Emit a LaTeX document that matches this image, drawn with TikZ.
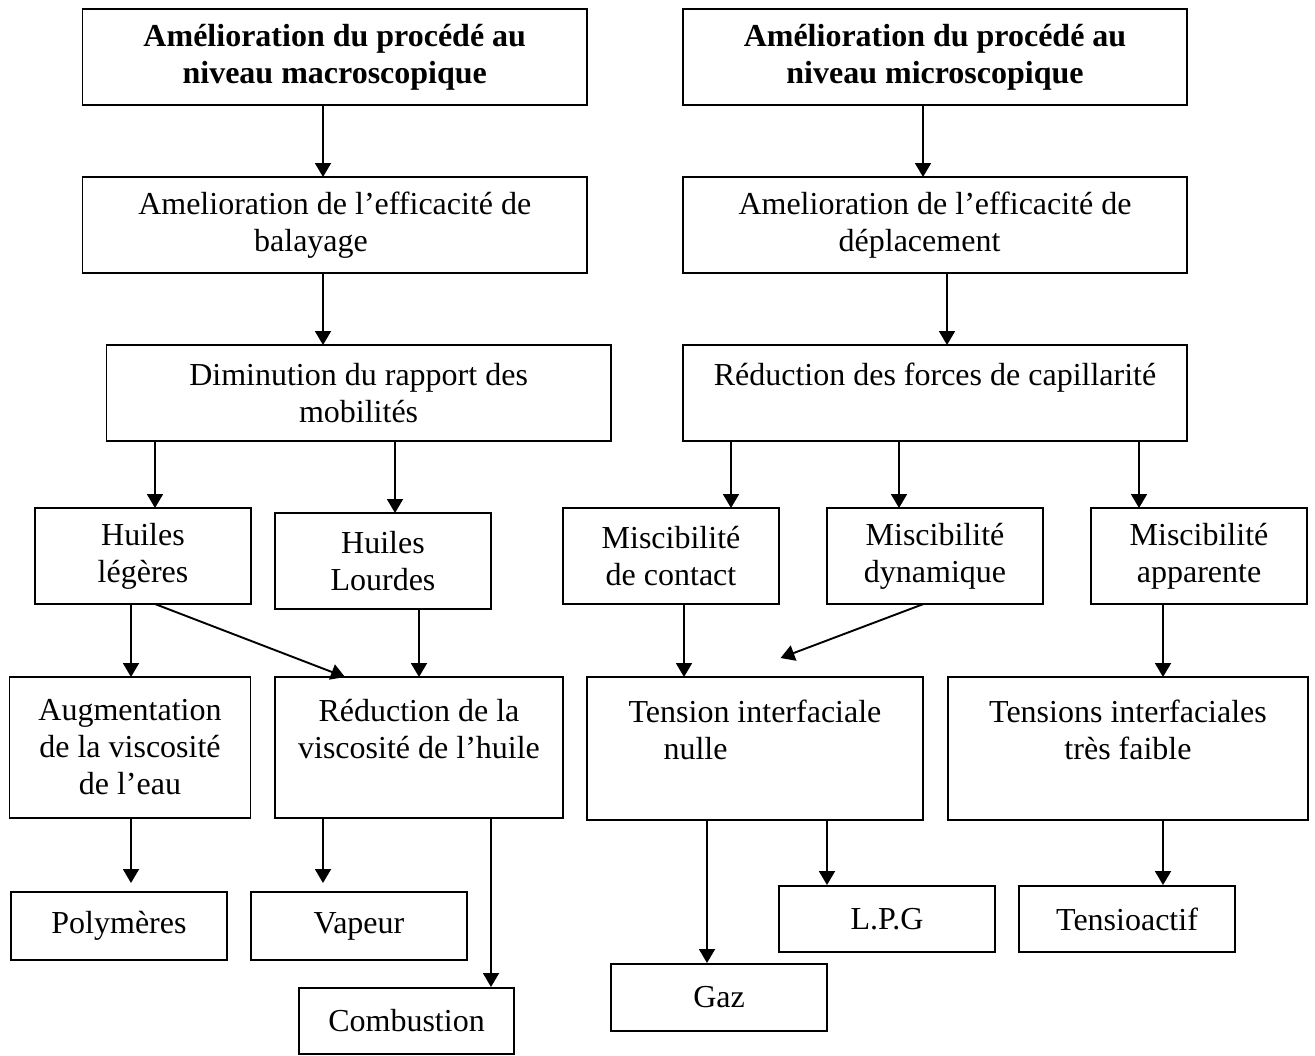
\documentclass[tikz,border=0pt]{standalone}
\usepackage{fontspec}
\setmainfont{Liberation Serif}
\usetikzlibrary{arrows.meta}
\begin{document}
\begin{tikzpicture}[x=1bp,y=-1bp,
  box/.style={draw, line width=1.9bp, inner sep=0pt, outer sep=0pt, align=center,
    font=\fontsize{32bp}{37bp}\selectfont},
  boldbox/.style={box, font=\fontsize{32bp}{37bp}\selectfont\bfseries},
  arr/.style={line width=1.9bp, -{Triangle[width=16bp,length=14bp]}}]
\useasboundingbox (0,0) rectangle (1315,1055);

% level 1
\node[boldbox, minimum width=504.5bp, minimum height=96bp] (macro) at (334.75,57)
  {Amélioration du procédé au\\niveau macroscopique};
\node[boldbox, minimum width=504bp, minimum height=96bp] (micro) at (935,57)
  {Amélioration du procédé au\\niveau microscopique};
% level 2
\node[box, minimum width=504.5bp, minimum height=96bp] (bal) at (334.75,225)
  {Amelioration de l’efficacité de\\balayage\hspace*{47.5bp}\mbox{}};
\node[box, minimum width=504bp, minimum height=96bp] (dep) at (935,225)
  {Amelioration de l’efficacité de\\déplacement\hspace*{31bp}\mbox{}};
% level 3
\node[box, minimum width=504.2bp, minimum height=96bp] (dim) at (358.6,393)
  {Diminution du rapport des\\mobilités};
\node[box, minimum width=504bp, minimum height=96bp] (red) at (935,393)
  {Réduction des forces de capillarité\\\mbox{}};
% level 4
\node[box, minimum width=216bp, minimum height=96bp] (hl) at (143,556)
  {Huiles\\légères};
\node[box, minimum width=216bp, minimum height=96bp] (hL) at (383,561)
  {Huiles\\Lourdes};
\node[box, minimum width=216bp, minimum height=96bp] (mc) at (671,556)
  {Miscibilité\\de contact};
\node[box, minimum width=216bp, minimum height=96bp] (md) at (935,556)
  {Miscibilité\\dynamique};
\node[box, minimum width=216bp, minimum height=96bp] (ma) at (1199,556)
  {Miscibilité\\apparente};
% level 5
\node[box, minimum width=241bp, minimum height=141bp] (aug) at (130,747.5)
  {Augmentation\\de la viscosité\\de l’eau};
\node[box, minimum width=288bp, minimum height=141bp] (rv) at (419,747.5)
  {Réduction de la\\viscosité de l’huile\\\mbox{}};
\node[box, minimum width=335.5bp, minimum height=143bp] (tn) at (755,748.5)
  {Tension interfaciale\\nulle\hspace*{119bp}\mbox{}\\\mbox{}};
\node[box, minimum width=360.4bp, minimum height=143bp] (ti) at (1128,748.5)
  {Tensions interfaciales\\très faible\\\mbox{}};
% level 6
\node[box, minimum width=216.5bp, minimum height=68bp] (poly) at (119,926) {Polymères};
\node[box, minimum width=216bp, minimum height=68bp] (vap) at (359,926) {Vapeur};
\node[box, minimum width=215bp, minimum height=66bp] (comb) at (406.5,1021) {Combustion};
\node[box, minimum width=216bp, minimum height=66bp] (lpg) at (887,919) {L.P.G};
\node[box, minimum width=216bp, minimum height=66bp] (tens) at (1127,919) {Tensioactif};
\node[box, minimum width=216bp, minimum height=67bp] (gaz) at (719,997.5) {Gaz};

\coordinate (mdend) at (780.5,658);

% connectors
\draw[arr] ([xshift=-11.75bp]macro.south) -- ([xshift=-11.75bp]macro.south |- bal.north);
\draw[arr] ([xshift=-12bp]micro.south) -- ([xshift=-12bp]micro.south |- dep.north);
\draw[arr] ([xshift=-11.75bp]bal.south) -- ([xshift=-11.75bp]bal.south |- dim.north);
\draw[arr] ([xshift=12bp]dep.south) -- ([xshift=12bp]dep.south |- red.north);

\draw[arr] ([xshift=-203.6bp]dim.south) -- ([xshift=-203.6bp]dim.south |- hl.north);
\draw[arr] ([xshift=36.4bp]dim.south) -- ([xshift=36.4bp]dim.south |- hL.north);

\draw[arr] ([xshift=-204bp]red.south) -- ([xshift=-204bp]red.south |- mc.north);
\draw[arr] ([xshift=-36bp]red.south) -- ([xshift=-36bp]red.south |- md.north);
\draw[arr] ([xshift=204bp]red.south) -- ([xshift=204bp]red.south |- ma.north);

\draw[arr] ([xshift=-12bp]hl.south) -- ([xshift=-12bp]hl.south |- aug.north);
\draw[arr] ([xshift=12bp]hl.south) -- ([xshift=-74bp]rv.north);
\draw[arr] ([xshift=36bp]hL.south) -- ([xshift=36bp]hL.south |- rv.north);

\draw[arr] ([xshift=13bp]mc.south) -- ([xshift=13bp]mc.south |- tn.north);
\draw[arr] ([xshift=-11.5bp]md.south) -- (mdend);
\draw[arr] ([xshift=-36bp]ma.south) -- ([xshift=-36bp]ma.south |- ti.north);

\draw[arr, shorten >=9bp] ([xshift=1bp]aug.south) -- ([xshift=1bp]aug.south |- poly.north);
\draw[arr, shorten >=9bp] ([xshift=-96bp]rv.south) -- ([xshift=-96bp]rv.south |- vap.north);
\draw[arr, shorten >=1bp] ([xshift=72bp]rv.south) -- ([xshift=72bp]rv.south |- comb.north);

\draw[arr, shorten >=1bp] ([xshift=-48bp]tn.south) -- ([xshift=-48bp]tn.south |- gaz.north);
\draw[arr, shorten >=1bp] ([xshift=72bp]tn.south) -- ([xshift=72bp]tn.south |- lpg.north);
\draw[arr, shorten >=1bp] ([xshift=35bp]ti.south) -- ([xshift=35bp]ti.south |- tens.north);
\end{tikzpicture}
\end{document}
